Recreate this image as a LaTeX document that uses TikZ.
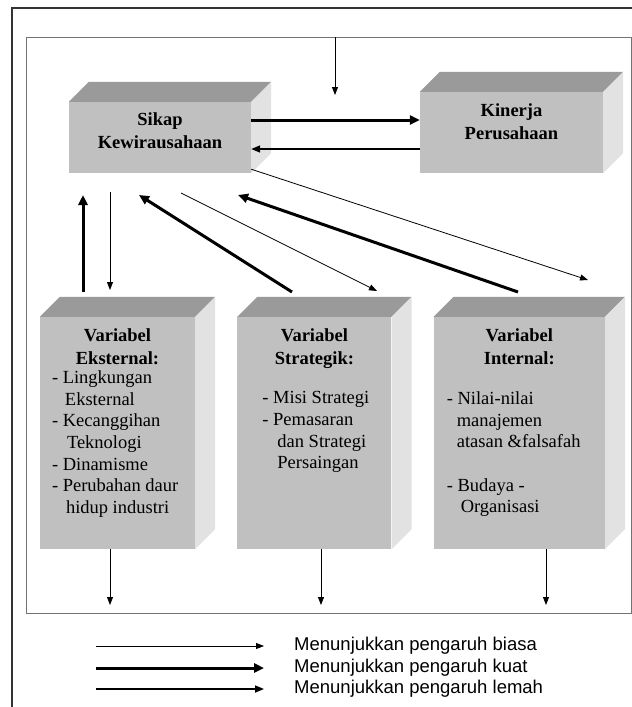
\documentclass[tikz,border=0pt]{standalone}
\usepackage{fontspec}
\setmainfont{Liberation Serif}
\newfontfamily\legendfont{Liberation Sans}
\usepackage{tikz}
\usetikzlibrary{positioning, calc, arrows.meta}

\definecolor{frontgray}{HTML}{C0C0C0}
\definecolor{topgray}{HTML}{9A9A9A}
\definecolor{sidegray}{HTML}{E2E2E2}

% top and side face of a box node
\newcommand{\boxfaces}[1]{%
  \fill[topgray] (#1.north west) -- ++(20,-20) -- ($(#1.north east)+(20,-20)$) -- (#1.north east) -- cycle;
  \fill[sidegray] (#1.north east) -- ++(20,-20) -- ($(#1.south east)+(20,-20)$) -- (#1.south east) -- cycle;}

\begin{document}
\begin{tikzpicture}[x=1pt, y=-1pt,
  front/.style={fill=frontgray, inner sep=0pt},
  titletext/.style={font=\bfseries\fontsize{18.5}{23}\selectfont, align=center, inner sep=0pt},
  listtext/.style={font=\fontsize{18.5}{21.7}\selectfont, align=left, inner sep=0pt, anchor=north west},
  legendtext/.style={font=\legendfont\fontsize{18.5}{22}\selectfont, inner sep=0pt, anchor=west},
  biasa/.style={line width=0.8pt, -{Triangle[length=8pt,width=6pt]}},
  lemah/.style={line width=1.6pt, -{Triangle[length=9pt,width=7pt]}},
  kuat/.style={line width=3pt, -{Triangle[length=10pt,width=9pt]}}]
\useasboundingbox (0,0) rectangle (632,707);

% frames
\draw[line width=1.5pt, black!80] (12,707) -- (12,8) -- (632,8);
\draw[line width=1pt, black!55] (26,37) rectangle (631,613);

% boxes
\node[front, minimum width=182pt, minimum height=71pt] (sikap) at (160,137.5) {};
\node[front, minimum width=183pt, minimum height=81pt] (kinerja) at (511.5,132.5) {};
\node[front, minimum width=155pt, minimum height=232pt] (ext) at (117.5,433) {};
\node[front, minimum width=154pt, minimum height=232pt, right=42pt of ext] (strat) {};
\node[front, minimum width=171pt, minimum height=232pt, right=42pt of strat] (intern) {};
\boxfaces{sikap}
\boxfaces{kinerja}
\boxfaces{ext}
\boxfaces{strat}
\boxfaces{intern}

% texts
\node[titletext] (sikapT) at ([yshift=7pt]sikap.center) {Sikap\\Kewirausahaan};
\node[titletext] (kinerjaT) at ([yshift=11pt]kinerja.center) {Kinerja\\Perusahaan};
\node[titletext, below=11.5pt of ext.north] (extT) {Variabel\\Eksternal:};
\node[titletext, below=11.5pt of strat.north] (stratT) {Variabel\\Strategik:};
\node[titletext, below=11.5pt of intern.north] (internT) {Variabel\\Internal:};
\node[listtext] (extL) at ($(ext.north west)+(12,53.5)$)
  {- Lingkungan\\\hspace*{13pt}Eksternal\\- Kecanggihan\\\hspace*{15pt}Teknologi\\- Dinamisme\\- Perubahan daur\\\hspace*{14pt}hidup industri};
\node[listtext] (stratL) at ($(strat.north west)+(25,74.5)$)
  {- Misi Strategi\\- Pemasaran\\\hspace*{15pt}dan Strategi\\\hspace*{15pt}Persaingan};
\node[listtext] (internL) at ($(intern.north west)+(13,74.5)$)
  {- Nilai-nilai\\\hspace*{10pt}manajemen\\\hspace*{10pt}atasan \&falsafah\\[21.7pt]- Budaya -\\\hspace*{14pt}Organisasi};

% free ends
\coordinate (topIn) at (335,37);
\coordinate (topEnd) at (335,95);
\coordinate (diagEnd) at (588,280);
\coordinate (extUpS) at (83,292);
\coordinate (extUpE) at (83,195);
\coordinate (extDownS) at (110,192);
\coordinate (extDownE) at (110,290);
\coordinate (stratUpS) at (292,292);
\coordinate (stratUpE) at (139,195);
\coordinate (stratDownS) at (181,193);
\coordinate (stratDownE) at (377,291);
\coordinate (internUpS) at (518,292);
\coordinate (internUpE) at (238,195);
\coordinate (extOut) at (110,605);
\coordinate (stratOut) at (321,605);
\coordinate (internOut) at (546,605);

% arrows
\draw[biasa] (topIn) -- (topEnd);
\draw[kuat] ([yshift=17.5pt]sikap.east) -- ([yshift=17.5pt]sikap.east -| kinerja.west);
\draw[lemah] ([yshift=-16.5pt]kinerja.west) -- ([yshift=-16.5pt]kinerja.west -| sikap.east);
\draw[biasa] ([yshift=4pt]sikap.south east) -- (diagEnd);
\draw[kuat] (extUpS) -- (extUpE);
\draw[biasa] (extDownS) -- (extDownE);
\draw[kuat] (stratUpS) -- (stratUpE);
\draw[biasa] (stratDownS) -- (stratDownE);
\draw[kuat] (internUpS) -- (internUpE);
\draw[biasa] (ext.south -| extOut) -- (extOut);
\draw[biasa] (strat.south -| stratOut) -- (stratOut);
\draw[biasa] (intern.south -| internOut) -- (internOut);

% legend
\node[legendtext] (legBiasa) at (294,646) {Menunjukkan pengaruh biasa};
\node[legendtext] (legKuat) at (294,668) {Menunjukkan pengaruh kuat};
\node[legendtext] (legLemah) at (294,689) {Menunjukkan pengaruh lemah};
\coordinate (legBiasaS) at (96,646);
\coordinate (legKuatS) at (96,668);
\coordinate (legLemahS) at (96,689);
\draw[biasa] (legBiasaS) -- ([xshift=-30pt]legBiasa.west);
\draw[kuat] (legKuatS) -- ([xshift=-30pt]legKuat.west);
\draw[lemah] (legLemahS) -- ([xshift=-30pt]legLemah.west);
\end{tikzpicture}
\end{document}
